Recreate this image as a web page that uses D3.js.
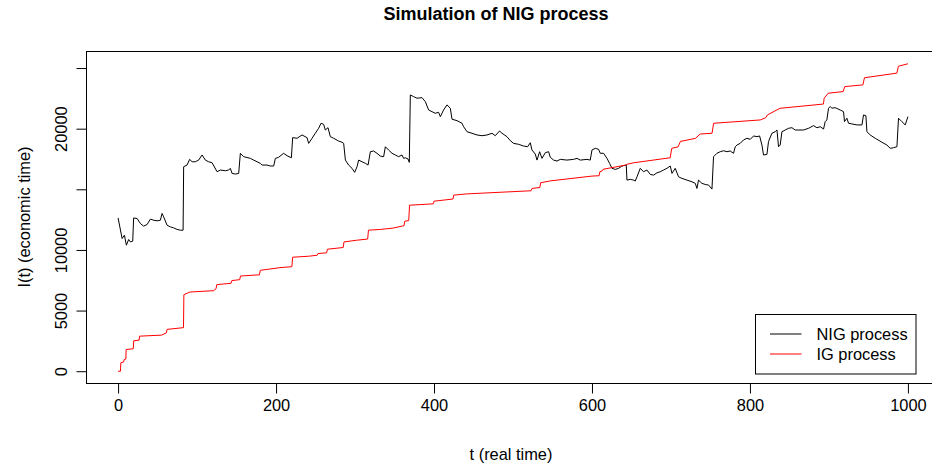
<!DOCTYPE html>
<html><head><meta charset="utf-8">
<script src="https://cdn.jsdelivr.net/npm/d3@7"></script>
<style>body{margin:0;background:#fff}svg{display:block}text{font-family:"Liberation Sans",Arial,Helvetica,sans-serif}</style>
</head><body>
<script>
// ---- data ----
const nigT = [0,5.1,8.0,10.5,13.4,15.6,18.5,19.7,24.1,28.2,32.4,36.7,40.9,45.1,49.4,53.5,55.7,57.7,62.0,66.2,70.4,74.7,78.9,82.3,83.0,87.3,90.6,93.7,97.8,102.0,106.3,110.5,114.7,119.0,125.3,129.5,135.8,140.0,142.1,144.3,148.5,152.7,154.8,159.0,167.5,171.6,175.9,180.1,182.3,188.6,192.8,197.0,199.1,203.3,209.6,213.9,219.4,221.0,226.6,232.9,239.2,241.3,245.6,249.7,253.9,257.0,260.2,262.4,265.8,268.7,272.9,279.2,283.5,285.6,287.8,291.9,296.2,299.5,302.5,304.6,308.9,313.1,316.5,319.4,323.5,327.8,332.0,336.2,338.4,342.5,346.8,351.0,355.2,359.5,361.5,363.7,367.1,368.7,370.0,374.2,378.5,384.8,389.0,393.2,397.5,401.6,405.8,408.0,412.1,416.4,420.6,422.8,429.1,435.4,437.5,441.8,448.1,454.4,460.7,467.1,473.4,477.6,483.0,486.1,492.4,496.6,500.7,507.1,513.4,518.5,521.9,524.0,528.2,530.4,533.7,536.7,540.9,545.1,547.2,551.4,555.7,559.9,568.3,576.7,581.0,585.2,593.7,597.8,600.0,604.2,608.3,610.5,614.7,619.0,622.3,625.3,629.5,633.7,638.0,643.4,644.3,648.5,652.6,654.8,657.0,661.1,665.3,669.6,673.8,678.0,682.3,686.5,690.6,694.9,699.1,701.3,705.4,709.6,713.9,720.2,726.6,730.8,732.9,734.9,739.2,743.4,747.6,751.9,753.9,758.2,762.4,766.6,770.9,775.0,779.2,781.4,783.5,787.7,791.9,796.2,800.4,804.6,808.9,812.2,815.2,817.2,821.5,823.5,827.8,832.0,834.2,836.2,838.3,840.5,844.7,848.8,853.1,857.3,867.8,874.2,880.5,884.8,889.0,893.2,895.3,897.4,899.5,901.6,903.8,907.9,914.3,918.5,919.7,922.8,924.8,929.1,935.4,941.8,943.8,946.8,948.1,952.3,958.6,967.1,973.4,977.6,981.8,986.1,988.1,992.4,996.6,1000];
const nigV = [12640,10940,11210,10390,10860,10660,10720,12640,12590,12180,11960,12100,12540,12450,12400,12450,13010,12730,12040,11900,11820,11690,11630,11630,16860,17000,17470,17270,17270,17410,17830,17410,17270,17190,16450,16590,16530,16590,16730,16310,16260,16310,17970,17690,17550,17410,17270,17140,17000,17000,16920,16920,17550,17640,17970,17770,17600,19260,19210,19480,19260,18790,19210,19620,20030,20450,20360,19890,20080,19340,19210,18980,18880,18790,17410,17000,16730,16400,16860,17410,17270,17140,17000,18100,18160,17970,17740,17690,18510,18240,17970,17830,17690,17830,17550,17600,17500,17220,22780,22640,22510,22560,22230,21540,21400,21270,21350,20990,21540,21960,21690,20780,20660,20450,20160,19750,19620,19480,19420,19480,19620,19420,19810,19620,19340,19010,18790,18710,18570,18510,18840,18240,17910,17410,18100,17550,18020,18100,17640,17410,17330,17470,17410,17470,17550,17410,17470,17410,18240,18380,18300,17970,17970,17550,17140,16730,16640,16730,16920,17000,15760,15820,15760,15680,16030,16730,16450,16590,16230,16170,16360,16450,16590,16730,16920,16310,16730,16030,15900,15760,15620,15490,15070,15760,15490,15400,15350,15020,17690,17970,18100,18180,18100,18160,17970,18510,18650,18790,19070,19210,19120,19400,19340,19400,18650,17830,17880,18930,19620,19750,19890,18510,18650,19750,19890,20030,20080,19890,19890,20030,20250,20080,20160,19970,20580,20720,21690,21820,21690,21730,21540,21400,20580,20860,20450,20390,20310,20310,21130,21070,19750,19480,19210,18880,18650,18380,18430,18510,20860,20580,20310,20990];
const igT = [0,3,3.5,7,7.6,9.8,10.2,19.2,19.8,26.6,27.2,55,61,62,82.8,83.3,91,121,124,125,143,144,154,155,179,180,205,220,221,241,252,253,264,265,285,286,302,316,317,332,348,362,363,368,369,399,400,424,425,441,523,524,534,535,548,600,609,610,613,614,642,644,653,699,701,709,712,731,737,752,754,813,820,822,838,893,894,899,918,920,943,945,986,988,1000];
const igV = [0,0,700,760,950,1000,1790,1850,2510,2560,2890,2975,3150,3450,3590,6310,6530,6640,6800,7140,7250,7470,7550,7850,7950,8320,8540,8620,9400,9480,9560,9700,9760,10060,10200,10660,10800,10900,11630,11690,11800,12000,12370,12420,13690,13800,14020,14200,14520,14620,14880,15070,15150,15540,15700,16090,16120,16450,16520,16650,16990,17060,17190,17600,18380,18500,18950,19200,19560,19620,20445,20720,20900,21130,21680,22030,22510,22920,23060,23470,23610,24200,24580,25150,25350];
const xTicks = [0,200,400,600,800,1000];
const yTicks = [0,5000,10000,15000,20000,25000];
const yTickLabels = ["0","5000","10000","","20000",""];
const seriesNames = ["NIG process","IG process"];
const seriesColors = ["#000000","#ff0000"];

// ---- layout ----
const W = 932, H = 470;
const svg = d3.select("body").append("svg").attr("width", W).attr("height", H);
const x = d3.scaleLinear().domain([-40, 1040]).range([86.5, 939.5]);
const y = d3.scaleLinear().domain([-1014, 26364]).range([383.5, 51.5]);
const fs = 16.4;

// title
svg.append("text").attr("x", 496).attr("y", 20).attr("text-anchor", "middle")
  .attr("font-weight", "bold").attr("font-size", 18).text("Simulation of NIG process");

// lines
const lineGen = d3.line().x(d => x(d[0])).y(d => y(d[1]));
const nig = nigT.map((t, i) => [t, nigV[i]]);
const ig = igT.map((t, i) => [t, igV[i]]);
svg.append("path").attr("d", lineGen(nig)).attr("fill", "none").attr("stroke", seriesColors[0]).attr("stroke-width", 1);
svg.append("path").attr("d", lineGen(ig)).attr("fill", "none").attr("stroke", seriesColors[1]).attr("stroke-width", 1);

// box
svg.append("rect").attr("x", 86.5).attr("y", 51.5).attr("width", 939.5 - 86.5).attr("height", 383.5 - 51.5)
  .attr("fill", "none").attr("stroke", "#000").attr("stroke-width", 1);

// x axis
const xAxis = d3.axisBottom(x).tickValues(xTicks).tickSize(10).tickPadding(6).tickFormat(d3.format("d"));
const gx = svg.append("g").attr("transform", "translate(0,383.5)").call(xAxis);
gx.select(".domain").attr("d", `M${x(0)},0H${x(1000)}`).attr("stroke", "#000");
gx.selectAll("text").attr("font-size", fs).attr("font-family", "Liberation Sans, Arial, sans-serif").attr("fill", "#000");
gx.selectAll("line").attr("stroke", "#000");

// y axis
const yAxis = d3.axisLeft(y).tickValues(yTicks).tickSize(10).tickFormat((d, i) => yTickLabels[i]);
const gy = svg.append("g").attr("transform", "translate(86.5,0)").call(yAxis);
gy.select(".domain").attr("d", `M0,${y(0)}V${y(25000)}`).attr("stroke", "#000");
gy.selectAll("line").attr("stroke", "#000");
gy.selectAll("text").attr("font-size", fs).attr("font-family", "Liberation Sans, Arial, sans-serif").attr("fill", "#000")
  .attr("transform", "rotate(-90)").attr("x", 0).attr("y", -20).attr("dy", 0).attr("text-anchor", "middle");

// axis titles
svg.append("text").attr("x", 511).attr("y", 460).attr("text-anchor", "middle").attr("font-size", fs).text("t (real time)");
svg.append("text").attr("transform", "translate(30,217) rotate(-90)").attr("text-anchor", "middle").attr("font-size", fs).text("I(t) (economic time)");

// legend
const lg = svg.append("g");
lg.append("rect").attr("x", 755.5).attr("y", 314.5).attr("width", 160.5).attr("height", 59.5)
  .attr("fill", "#fff").attr("stroke", "#000").attr("stroke-width", 1);
seriesNames.forEach((n, i) => {
  const yy = 334 + i * 20;
  lg.append("line").attr("x1", 770).attr("x2", 801.5).attr("y1", yy).attr("y2", yy).attr("stroke", seriesColors[i]);
  lg.append("text").attr("x", 816.5).attr("y", yy + 6).attr("font-size", fs).text(n);
});
</script>
</body></html>
